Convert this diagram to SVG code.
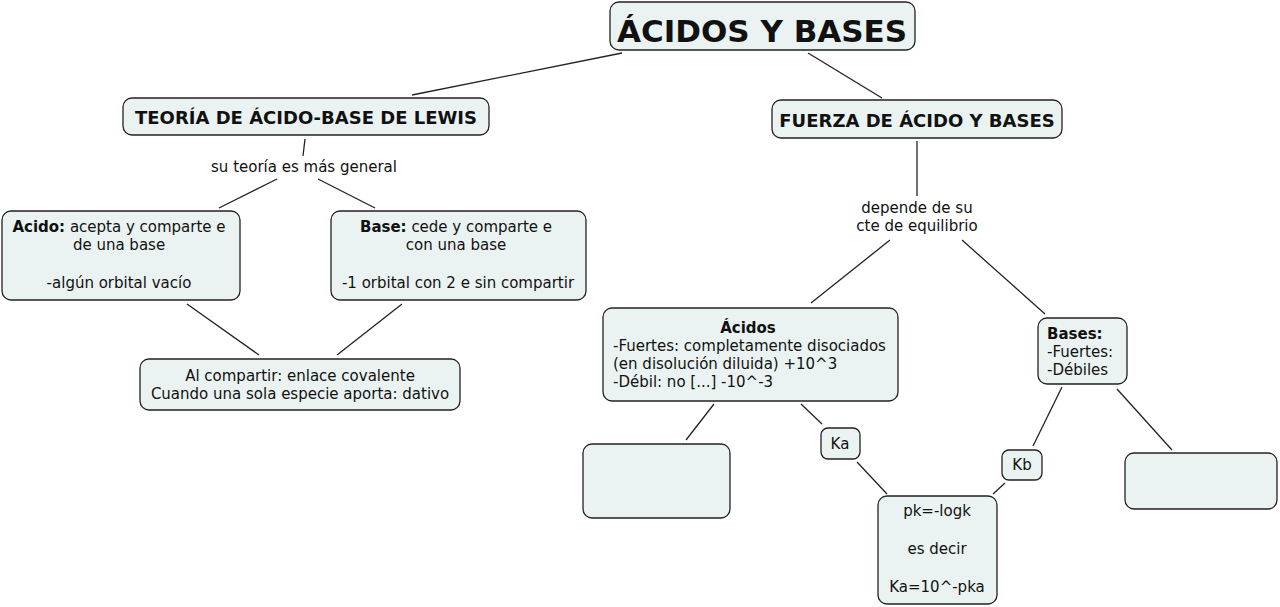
<svg xmlns="http://www.w3.org/2000/svg" width="1280" height="607" viewBox="0 0 1280 607">
<style>
.n rect{fill:#ebf3f2;stroke:#222;stroke-width:1.3}
text{font-family:"DejaVu Sans",Verdana,sans-serif;font-size:15px;fill:#111;text-anchor:middle}
.b{font-weight:bold}
.l{text-anchor:start}
.h{font-size:18px;font-weight:bold}
#conn line{stroke:#222;stroke-width:1.3}
</style>
<rect width="1280" height="607" fill="#fff"/>
<g id="conn">
<line x1="622" y1="53" x2="412" y2="95"/>
<line x1="808" y1="53" x2="882" y2="98"/>
<line x1="305" y1="139" x2="303" y2="156"/>
<line x1="277" y1="179" x2="219" y2="208"/>
<line x1="318" y1="179" x2="375" y2="208"/>
<line x1="187" y1="304" x2="259" y2="355"/>
<line x1="402" y1="304" x2="337" y2="355"/>
<line x1="917" y1="141" x2="917" y2="196"/>
<line x1="890" y1="240" x2="811" y2="303"/>
<line x1="962" y1="240" x2="1045" y2="314"/>
<line x1="714" y1="404" x2="686" y2="440"/>
<line x1="801" y1="404" x2="822" y2="424"/>
<line x1="857" y1="462" x2="887" y2="494"/>
<line x1="1062" y1="387" x2="1033" y2="446"/>
<line x1="1005" y1="483" x2="993" y2="494"/>
<line x1="1117" y1="389" x2="1172" y2="450"/>
</g>
<g id="title" class="n"><rect x="610" y="2" width="305" height="48" rx="9"/><text x="762" y="42" class="b" style="font-size:31px">ÁCIDOS Y BASES</text></g>
<g id="lewis" class="n"><rect x="123" y="98" width="366" height="37" rx="9"/><text x="306" y="124" class="h">TEORÍA DE ÁCIDO-BASE DE LEWIS</text></g>
<g id="fuerza" class="n"><rect x="772" y="100" width="290" height="38" rx="9"/><text x="917" y="127" class="h">FUERZA DE ÁCIDO Y BASES</text></g>
<g id="lbl1"><text x="304" y="172">su teoría es más general</text></g>
<g id="lbl2"><text x="917" y="213">depende de su</text><text x="917" y="231">cte de equilibrio</text></g>
<g id="acido" class="n"><rect x="2" y="211" width="238" height="89" rx="9"/><text x="119" y="232"><tspan class="b">Acido:</tspan> acepta y comparte e</text><text x="119" y="250">de una base</text><text x="119" y="288">-algún orbital vacío</text></g>
<g id="base" class="n"><rect x="331" y="211" width="255" height="89" rx="9"/><text x="456" y="232"><tspan class="b">Base:</tspan> cede y comparte e</text><text x="456" y="250">con una base</text><text x="458" y="288">-1 orbital con 2 e sin compartir</text></g>
<g id="compartir" class="n"><rect x="140" y="359" width="320" height="51" rx="9"/><text x="300" y="381">Al compartir: enlace covalente</text><text x="300" y="399">Cuando una sola especie aporta: dativo</text></g>
<g id="acidos" class="n"><rect x="603" y="308" width="295" height="93" rx="9"/><text x="748" y="333" class="b">Ácidos</text><text x="613" y="351" class="l">-Fuertes: completamente disociados</text><text x="613" y="369" class="l">(en disolución diluida) +10^3</text><text x="613" y="387" class="l">-Débil: no [...] -10^-3</text></g>
<g id="bases" class="n"><rect x="1038" y="318" width="89" height="66" rx="9"/><text x="1047" y="339" class="l b">Bases:</text><text x="1047" y="357" class="l">-Fuertes:</text><text x="1047" y="375" class="l">-Débiles</text></g>
<g id="empty1" class="n"><rect x="583" y="444" width="147" height="74" rx="9"/></g>
<g id="ka" class="n"><rect x="821" y="428" width="39" height="31" rx="7"/><text x="840" y="449">Ka</text></g>
<g id="kb" class="n"><rect x="1002" y="450" width="40" height="30" rx="7"/><text x="1022" y="470">Kb</text></g>
<g id="pk" class="n"><rect x="878" y="496" width="119" height="108" rx="9"/><text x="937" y="516">pk=-logk</text><text x="937" y="554">es decir</text><text x="937" y="592">Ka=10^-pka</text></g>
<g id="empty2" class="n"><rect x="1125" y="453" width="152" height="56" rx="9"/></g>
</svg>
